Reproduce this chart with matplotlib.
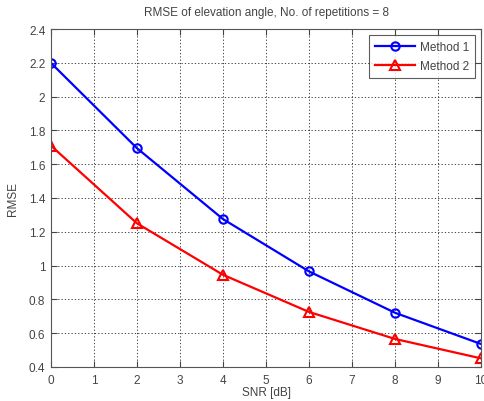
import matplotlib
matplotlib.use("Agg")
import matplotlib.pyplot as plt

snr = [0, 2, 4, 6, 8, 10]
method1 = [2.20, 1.695, 1.275, 0.965, 0.72, 0.535]
method2 = [1.71, 1.25, 0.945, 0.725, 0.565, 0.45]
xticks = list(range(0, 11))
yticks = [0.4, 0.6, 0.8, 1.0, 1.2, 1.4, 1.6, 1.8, 2.0, 2.2, 2.4]
ytick_labels = ["0.4", "0.6", "0.8", "1", "1.2", "1.4", "1.6", "1.8", "2", "2.2", "2.4"]

plt.rcParams['font.family'] = ['Liberation Sans', 'DejaVu Sans']
fs = 8.5
fig = plt.figure(figsize=(4.85, 4.02), dpi=100)
ax = fig.add_axes([0.105, 0.085, 0.887, 0.84])
ax.plot(snr, method1, color='blue', lw=1.6, marker='o', ms=6, mfc='none', mew=1.5, label='Method 1')
ax.plot(snr, method2, color='red', lw=1.6, marker='^', ms=7, mfc='none', mew=1.5, label='Method 2')
ax.set_xlim(0, 10)
ax.set_ylim(0.4, 2.4)
ax.set_xticks(xticks)
ax.set_xticklabels([str(t) for t in xticks])
ax.set_yticks(yticks)
ax.set_yticklabels(ytick_labels)
ax.grid(True, color='#222222', linestyle=(0, (1.5, 2.5)), linewidth=0.6)
ax.tick_params(direction='in', labelsize=fs, colors='#444444', length=4, top=True, right=True)
ax.tick_params(axis='x', pad=5)
ax.tick_params(axis='y', pad=4)
for s in ax.spines.values():
    s.set_color('#555555')
    s.set_linewidth(0.8)
ax.set_xlabel('SNR [dB]', fontsize=fs, color='#444444', labelpad=0.5)
ax.set_ylabel('RMSE', fontsize=fs, color='#444444', labelpad=7)
ax.set_title('RMSE of elevation angle, No. of repetitions = 8', fontsize=fs, color='#444444', pad=10)
leg = ax.legend(loc='upper right', fontsize=fs, frameon=True, fancybox=False, edgecolor='#333333',
                handlelength=3.4, handletextpad=0.4, borderaxespad=0.5, labelspacing=0.6,
                borderpad=0.5)
leg.get_frame().set_linewidth(0.8)
for t in leg.get_texts():
    t.set_color('#444444')
fig.savefig('out.png', dpi=100)
